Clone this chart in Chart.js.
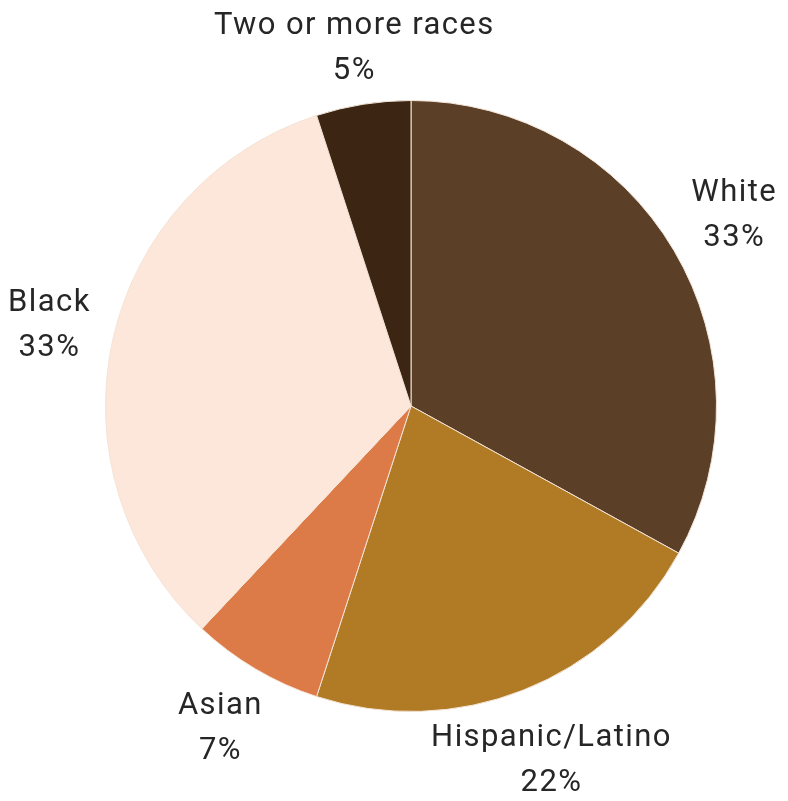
<!DOCTYPE html>
<html>
<head>
<meta charset="utf-8">
<script src="https://cdn.jsdelivr.net/npm/chart.js@4"></script>
<style>
  html, body { margin: 0; padding: 0; background: #ffffff; }
  #wrap { width: 788px; height: 801px; position: relative; }
</style>
</head>
<body>
<div id="wrap"><canvas id="pieChart" width="788" height="801"></canvas></div>
<script>
// Datos del gráfico
const categories = ["White", "Hispanic/Latino", "Asian", "Black", "Two or more races"];
const shares = [33, 22, 7, 33, 5];
const sliceColors = ["#5b3f27", "#b17a24", "#dc7a48", "#fde6da", "#3c2613"];
// distancia extra de cada etiqueta respecto al borde del pastel
const labelGap = [70, 76, 69, 65, 57];

// Etiquetas fuera del pastel, sobre el ángulo medio de cada porción
const outsideLabels = {
  id: "outsideLabels",
  afterDatasetsDraw(chart) {
    const ctx = chart.ctx;
    const meta = chart.getDatasetMeta(0);
    ctx.save();
    ctx.font = "400 31px Roboto, 'Open Sans', sans-serif";
    ctx.letterSpacing = "1.4px";
    ctx.fillStyle = "#262626";
    ctx.textAlign = "center";
    ctx.textBaseline = "middle";
    meta.data.forEach((arc, i) => {
      const mid = (arc.startAngle + arc.endAngle) / 2;
      const dist = arc.outerRadius + labelGap[i];
      const x = arc.x + Math.cos(mid) * dist;
      const y = arc.y + Math.sin(mid) * dist;
      ctx.fillText(categories[i], x, y - 22);
      ctx.fillText(shares[i] + "%", x, y + 23);
    });
    ctx.restore();
  }
};

const ctx = document.getElementById("pieChart").getContext("2d");
new Chart(ctx, {
  type: "pie",
  data: {
    labels: categories,
    datasets: [{
      data: shares,
      backgroundColor: sliceColors,
      borderColor: "#f3e4d6",
      borderWidth: 1
    }]
  },
  options: {
    responsive: false,
    animation: false,
    layout: {
      padding: { left: 105, right: 71, top: 100, bottom: 89 }
    },
    plugins: {
      legend: { display: false },
      tooltip: { enabled: false }
    }
  },
  plugins: [outsideLabels]
});
</script>
</body>
</html>
